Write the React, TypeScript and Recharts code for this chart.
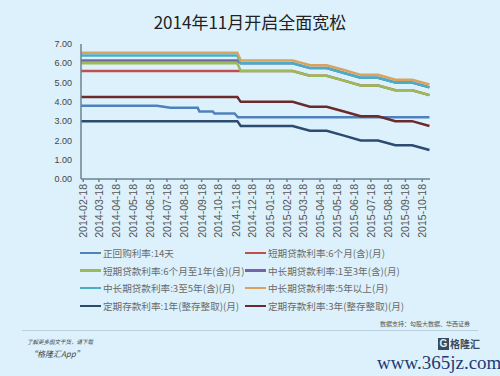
import { Line, LineChart, XAxis, YAxis } from 'recharts';

// month-end vertices of the benchmark rate series
const rateDates = [
  '2014-02-14', '2014-11-21', '2014-11-27', '2015-02-28', '2015-03-31', '2015-04-30',
  '2015-05-31', '2015-06-30', '2015-07-31', '2015-08-31', '2015-09-30', '2015-10-31',
];
const loan6m = [5.6, 5.6, 5.6, 5.6, 5.35, 5.35, 5.1, 4.85, 4.85, 4.6, 4.6, 4.35];
const loan1y = [6.0, 6.0, 5.6, 5.6, 5.35, 5.35, 5.1, 4.85, 4.85, 4.6, 4.6, 4.35];
const loan1to3 = [6.15, 6.15, 6.0, 6.0, 5.75, 5.75, 5.5, 5.25, 5.25, 5.0, 5.0, 4.75];
const loan3to5 = [6.4, 6.4, 6.0, 6.0, 5.75, 5.75, 5.5, 5.25, 5.25, 5.0, 5.0, 4.75];
const loan5plus = [6.55, 6.55, 6.15, 6.15, 5.9, 5.9, 5.65, 5.4, 5.4, 5.15, 5.15, 4.9];
const deposit1y = [3.0, 3.0, 2.75, 2.75, 2.5, 2.5, 2.25, 2.0, 2.0, 1.75, 1.75, 1.5];
const deposit3y = [4.25, 4.25, 4.0, 4.0, 3.75, 3.75, 3.5, 3.25, 3.25, 3.0, 3.0, 2.75];

const repoDates = [
  '2014-02-14', '2014-06-30', '2014-07-24', '2014-09-11', '2014-09-14',
  '2014-10-08', '2014-10-11', '2014-11-16', '2014-11-22', '2015-10-31',
];
const repo14 = [3.8, 3.8, 3.7, 3.7, 3.5, 3.5, 3.4, 3.4, 3.2, 3.2];

const tickLabels = [
  '2014-02-18', '2014-03-18', '2014-04-18', '2014-05-18', '2014-06-18', '2014-07-18',
  '2014-08-18', '2014-09-18', '2014-10-18', '2014-11-18', '2014-12-18', '2015-01-18',
  '2015-02-18', '2015-03-18', '2015-04-18', '2015-05-18', '2015-06-18', '2015-07-18',
  '2015-08-18', '2015-09-18', '2015-10-18',
];
const yTicks = [0, 1, 2, 3, 4, 5, 6, 7];

const day = (s: string) => Date.parse(s + 'T00:00:00Z') / 86400000;
const toRows = (dates: string[], vals: number[]) => dates.map((d, i) => ({ t: day(d), v: vals[i] }));

const series = [
  { name: '正回购利率:14天', color: '#4f81bd', data: toRows(repoDates, repo14) },
  { name: '短期贷款利率:6个月(含)(月)', color: '#c0504d', data: toRows(rateDates, loan6m) },
  { name: '短期贷款利率:6个月至1年(含)(月)', color: '#9bbb59', data: toRows(rateDates, loan1y) },
  { name: '中长期贷款利率:1至3年(含)(月)', color: '#7465a8', data: toRows(rateDates, loan1to3) },
  { name: '中长期贷款利率:3至5年(含)(月)', color: '#4bacc6', data: toRows(rateDates, loan3to5) },
  { name: '中长期贷款利率:5年以上(月)', color: '#d9a35e', data: toRows(rateDates, loan5plus) },
  { name: '定期存款利率:1年(整存整取)(月)', color: '#2b4b70', data: toRows(rateDates, deposit1y) },
  { name: '定期存款利率:3年(整存整取)(月)', color: '#6b2a2c', data: toRows(rateDates, deposit3y) },
];

const tickTs = tickLabels.map(day);
const labelFor = (t: number) => tickLabels[tickTs.indexOf(t)] ?? '';

const XTick = (props: any) => {
  const { x, y, payload } = props;
  return (
    <text
      x={x}
      y={y}
      transform={`rotate(-90 ${x} ${y})`}
      textAnchor="end"
      dominantBaseline="central"
      fontSize={10.5}
      fill="#555"
      fontFamily="Liberation Sans, Arial, sans-serif"
    >
      {labelFor(payload.value)}
    </text>
  );
};

export default function App() {
  return (
    <div
      style={{
        position: 'absolute',
        left: 0,
        top: 0,
        width: 500,
        height: 376,
        background: '#dcf1fb',
        fontFamily: '"Noto Sans CJK SC", "Noto Sans", sans-serif',
        overflow: 'hidden',
      }}
    >
      <div style={{ position: 'absolute', top: 9, width: 500, textAlign: 'center', fontSize: 17, color: '#222' }}>
        2014年11月开启全面宽松
      </div>

      <div style={{ position: 'absolute', left: 0, top: 0 }}>
        <LineChart width={500} height={245} margin={{ top: 44, right: 70, left: 0, bottom: 0 }}>
          <XAxis
            type="number"
            dataKey="t"
            domain={[day('2014-02-14'), day('2015-11-01')]}
            ticks={tickTs}
            interval={0}
            tick={<XTick />}
            tickSize={3}
            height={66}
            stroke="#6c8291"
            strokeWidth={1.5}
            allowDataOverflow
          />
          <YAxis
            type="number"
            domain={[0, 7]}
            ticks={yTicks}
            tickFormatter={(v: number) => v.toFixed(2)}
            width={81}
            tickSize={0}
            tickMargin={9}
            tick={{ fontSize: 9, fill: '#444', fontFamily: 'Liberation Sans, Arial, sans-serif' }}
            stroke="#6c8291"
            strokeWidth={1.5}
          />
          {series.map((s) => (
            <Line
              key={s.name}
              data={s.data}
              dataKey="v"
              type="linear"
              stroke={s.color}
              strokeWidth={2.5}
              dot={false}
              isAnimationActive={false}
            />
          ))}
        </LineChart>
      </div>

      {series.map((s, i) => {
        const col = i % 2;
        const row = Math.floor(i / 2);
        const left = col === 0 ? 80 : 245;
        return (
          <div
            key={s.name}
            style={{
              position: 'absolute',
              left,
              top: 253 + row * 17.6 - 8,
              height: 16,
              display: 'flex',
              alignItems: 'center',
              whiteSpace: 'nowrap',
              fontSize: 9.6,
              color: '#6a6a6a',
            }}
          >
            <span style={{ display: 'inline-block', width: 21, height: 2.5, background: s.color, marginRight: 2 }} />
            {s.name}
          </div>
        );
      })}

      <div style={{ position: 'absolute', right: 30, top: 319, fontSize: 6, color: '#555', whiteSpace: 'nowrap' }}>
        数据支持：勾股大数据、华西证券
      </div>
      <div style={{ position: 'absolute', left: 22, top: 330, width: 456, height: 1, background: '#b9cfdb' }} />
      <div style={{ position: 'absolute', left: 27, top: 338, fontSize: 5.5, fontStyle: 'italic', color: '#444', whiteSpace: 'nowrap' }}>
        了解更多图文干货，请下载
      </div>
      <div style={{ position: 'absolute', left: 29, top: 348, fontSize: 8, fontStyle: 'italic', color: '#444', whiteSpace: 'nowrap' }}>
        “格隆汇App”
      </div>
      <div style={{ position: 'absolute', left: 438, top: 338, height: 12, display: 'flex', alignItems: 'center' }}>
        <span
          style={{
            display: 'inline-block',
            width: 11,
            height: 12,
            background: '#3a4a5e',
            color: '#dcf1fb',
            fontSize: 10,
            fontWeight: 700,
            lineHeight: '12px',
            textAlign: 'center',
            fontFamily: 'Liberation Sans, Arial, sans-serif',
          }}
        >
          G
        </span>
        <span style={{ fontSize: 10, fontWeight: 700, color: '#3a4a5e', marginLeft: 1, lineHeight: '12px' }}>格隆汇</span>
      </div>
      <div
        style={{
          position: 'absolute',
          left: 377,
          top: 353,
          fontSize: 19,
          lineHeight: '19px',
          color: '#1f3b73',
          fontFamily: '"Liberation Serif", "DejaVu Serif", serif',
          whiteSpace: 'nowrap',
        }}
      >
        www.365jz.com
      </div>
    </div>
  );
}
